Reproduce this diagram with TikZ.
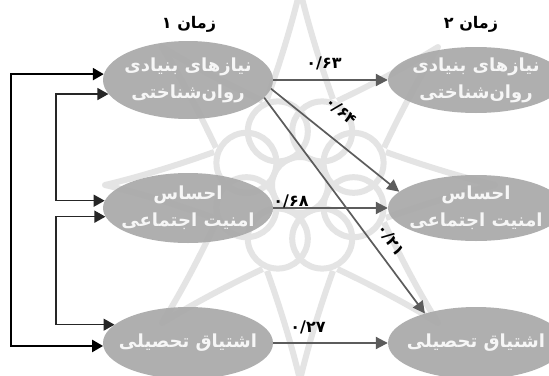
\documentclass[tikz,border=0pt]{standalone}
\usepackage{fontspec}
\usetikzlibrary{arrows.meta,calc,shapes.geometric}
\TeXXeTstate=1
\newfontfamily\fafont[Script=Arabic]{DejaVu Sans}
\definecolor{ovalfill}{HTML}{A9A9A9}
\definecolor{pathgray}{HTML}{5C5C5C}
\definecolor{ovaltext}{HTML}{F6F6F6}
\definecolor{rosette}{HTML}{E4E4E4}
\tikzset{
  oval/.style={ellipse, fill=ovalfill, fill opacity=0.93, text opacity=1, draw=none,
    inner xsep=-40pt, inner ysep=-8pt, align=center,
    text=ovaltext, font=\fafont\bfseries\fontsize{18}{27}\selectfont},
  timehead/.style={font=\fafont\bfseries\fontsize{16}{18}\selectfont, text=black},
  coef/.style={font=\fafont\bfseries\fontsize{16}{18}\selectfont, text=black, inner sep=0pt},
  path arrow/.style={draw=pathgray, line width=2pt, -{Triangle[length=12pt,width=12pt]}},
  outer link/.style={draw=black, line width=2.4pt, {Triangle[length=11pt,width=12pt]}-{Triangle[length=11pt,width=12pt]}},
  inner link/.style={draw=black!85, line width=1.4pt, {Triangle[length=11pt,width=12pt]}-{Triangle[length=11pt,width=12pt]}},
  ornament/.style={draw=rosette, line width=6pt, line join=round}
}
\begin{document}
\begin{tikzpicture}[x=1pt,y=-1pt]
\useasboundingbox (0,0) rectangle (549,375);
\clip (0,0) rectangle (549,375);
\fill[white] (0,0) rectangle (549,375);

% faint rosette ornament in the background
\begin{scope}[shift={(300,185)}]
  \foreach \a in {0,45,...,315}{
    % pointed star arm with concave sides
    \draw[ornament] (\a-21:92) .. controls (\a-9:125) and (\a-3:160) .. (\a:195)
                               .. controls (\a+3:160) and (\a+9:125) .. (\a+21:92);
    % petal between the arms
    \draw[ornament] (\a+22.5:58) circle (30);
  }
  \draw[ornament] (0,0) circle (28);
\end{scope}

% column headings
\node[timehead] (t1) at (189,24) {\beginR زمان ۱\endR};
\node[timehead] (t2) at (471,24) {\beginR زمان ۲\endR};

% time 1 variables
\node[oval, minimum width=170pt, minimum height=78pt] (L1) at (188,80)
  {\beginR نیازهای بنیادی\endR\\\beginR روان‌شناختی\endR};
\node[oval, minimum width=170pt, minimum height=70pt] (L2) at (188,208)
  {\beginR احساس\endR\\\beginR امنیت اجتماعی\endR};
\node[oval, minimum width=170pt, minimum height=72pt] (L3) at (188,343)
  {\beginR اشتیاق تحصیلی\endR};

% time 2 variables
\node[oval, minimum width=176pt, minimum height=66pt] (R1) at (476,80)
  {\beginR نیازهای بنیادی\endR\\\beginR روان‌شناختی\endR};
\node[oval, minimum width=176pt, minimum height=66pt] (R2) at (476,208)
  {\beginR احساس\endR\\\beginR امنیت اجتماعی\endR};
\node[oval, minimum width=176pt, minimum height=72pt] (R3) at (476,343)
  {\beginR اشتیاق تحصیلی\endR};

% stability and cross-lagged paths
\draw[path arrow] (L1.east) -- (R1.west);
\draw[path arrow] (L2.east) -- (R2.west);
\draw[path arrow] (L3.east) -- (R3.west);
\draw[path arrow, line width=1.7pt] (L1.-6) -- (R2.168);
\draw[path arrow, line width=1.7pt] (L1.-13) -- (R3.150);

% path coefficients
\node[coef] (c1) at (324,63) {۰/۶۳};
\node[coef, rotate=-42] (c2) at (341,111) {۰/۶۴};
\node[coef] (c3) at (291,201) {۰/۶۸};
\node[coef, rotate=-56] (c4) at (391,240) {۰/۲۱};
\node[coef] (c5) at (308,327) {۰/۲۷};

% correlations among time 1 variables
\coordinate (xo) at (11,200);
\coordinate (xa) at (56,150);
\coordinate (xb) at (56,270);
\draw[outer link] (L1.176) -| (xo) |- (L3.182);
\draw[inner link] (L1.190) -| (xa) |- (L2.175);
\draw[inner link] (L2.186) -| (xb) |- (L3.166);
\end{tikzpicture}
\end{document}
